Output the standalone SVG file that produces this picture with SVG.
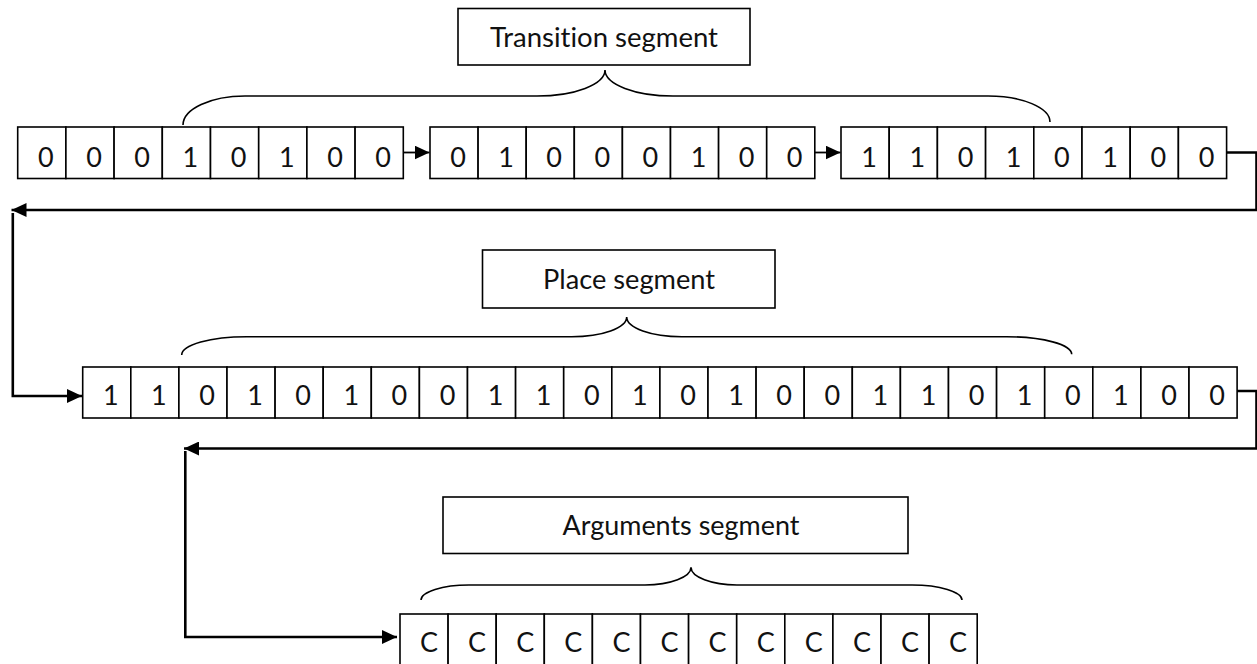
<svg xmlns="http://www.w3.org/2000/svg" width="1257" height="664" viewBox="0 0 1257 664">
<defs>
<style>
.cell{fill:#fff;stroke:#000;stroke-width:1.6}
.bit{font-family:Lato,"Open Sans","Liberation Sans",sans-serif;font-size:27px;fill:#111;text-anchor:middle}
.lbl{font-family:Lato,"Open Sans","Liberation Sans",sans-serif;font-size:26px;fill:#111;text-anchor:middle;font-variant-ligatures:none}
.box{fill:#fff;stroke:#000;stroke-width:1.6}
.brace{fill:none;stroke:#000;stroke-width:1.6}
.conn{fill:none;stroke:#000;stroke-width:2.6}
.link{fill:none;stroke:#000;stroke-width:1.8}
</style>
<marker id="ah" viewBox="0 0 15 14" refX="15" refY="7" markerWidth="15" markerHeight="14" markerUnits="userSpaceOnUse" orient="auto">
<path d="M0,0 L15,7 L0,14 z" fill="#000"/>
</marker>
</defs>
<rect width="1257" height="664" fill="#fff"/>

<!-- Label boxes and braces -->
<g id="transition-label">
<rect class="box" x="458" y="8.5" width="292" height="56.5"/>
<text class="lbl" x="604" y="46.5" textLength="228" lengthAdjust="spacingAndGlyphs">Transition segment</text>
<path class="brace" d="M183,125 A62,29 0 0 1 245,96 L537,96 A68,26 0 0 0 605,70 A68,26 0 0 0 673,96 L988,96 A62,26 0 0 1 1050,122"/>
</g>
<g id="place-label">
<rect class="box" x="482.5" y="250" width="292.5" height="58"/>
<text class="lbl" x="629" y="289.3" textLength="172" lengthAdjust="spacingAndGlyphs">Place segment</text>
<path class="brace" d="M181.7,355 A65,18.3 0 0 1 246.7,336.7 L571.7,336.7 A55,19.7 0 0 0 626.7,317 A55,19.7 0 0 0 681.7,336.7 L1006.7,336.7 A65,17.6 0 0 1 1071.7,354.3"/>
</g>
<g id="arguments-label">
<rect class="box" x="443" y="497" width="465" height="56.5"/>
<text class="lbl" x="681" y="535" textLength="237" lengthAdjust="spacingAndGlyphs">Arguments segment</text>
<path class="brace" d="M421,600 A48,15 0 0 1 469,585 L645,585 A46,17.7 0 0 0 691,567.3 A46,17.7 0 0 0 737,585 L912,585 A50,15 0 0 1 962,600"/>
</g>

<!-- Row 1, group 1 -->
<g id="t-group-1">
<rect class="cell" x="17.7" y="127" width="48.2" height="51.5"/>
<rect class="cell" x="65.9" y="127" width="48.2" height="51.5"/>
<rect class="cell" x="114.1" y="127" width="48.2" height="51.5"/>
<rect class="cell" x="162.3" y="127" width="48.2" height="51.5"/>
<rect class="cell" x="210.5" y="127" width="48.2" height="51.5"/>
<rect class="cell" x="258.7" y="127" width="48.2" height="51.5"/>
<rect class="cell" x="306.9" y="127" width="48.2" height="51.5"/>
<rect class="cell" x="355.1" y="127" width="48.2" height="51.5"/>
<text class="bit" x="45.8" y="166.5">0</text>
<text class="bit" x="94" y="166.5">0</text>
<text class="bit" x="142.2" y="166.5">0</text>
<text class="bit" x="190.4" y="166.5">1</text>
<text class="bit" x="238.6" y="166.5">0</text>
<text class="bit" x="286.8" y="166.5">1</text>
<text class="bit" x="335" y="166.5">0</text>
<text class="bit" x="383.2" y="166.5">0</text>
</g>

<!-- Row 1, group 2 -->
<g id="t-group-2">
<rect class="cell" x="430" y="127" width="48.1" height="51.5"/>
<rect class="cell" x="478.1" y="127" width="48.1" height="51.5"/>
<rect class="cell" x="526.2" y="127" width="48.1" height="51.5"/>
<rect class="cell" x="574.3" y="127" width="48.1" height="51.5"/>
<rect class="cell" x="622.4" y="127" width="48.1" height="51.5"/>
<rect class="cell" x="670.5" y="127" width="48.1" height="51.5"/>
<rect class="cell" x="718.6" y="127" width="48.1" height="51.5"/>
<rect class="cell" x="766.7" y="127" width="48.1" height="51.5"/>
<text class="bit" x="458" y="166.5">0</text>
<text class="bit" x="506.1" y="166.5">1</text>
<text class="bit" x="554.2" y="166.5">0</text>
<text class="bit" x="602.3" y="166.5">0</text>
<text class="bit" x="650.4" y="166.5">0</text>
<text class="bit" x="698.5" y="166.5">1</text>
<text class="bit" x="746.6" y="166.5">0</text>
<text class="bit" x="794.7" y="166.5">0</text>
</g>

<!-- Row 1, group 3 -->
<g id="t-group-3">
<rect class="cell" x="841" y="127" width="48.2" height="51.5"/>
<rect class="cell" x="889.2" y="127" width="48.2" height="51.5"/>
<rect class="cell" x="937.4" y="127" width="48.2" height="51.5"/>
<rect class="cell" x="985.6" y="127" width="48.2" height="51.5"/>
<rect class="cell" x="1033.8" y="127" width="48.2" height="51.5"/>
<rect class="cell" x="1082" y="127" width="48.2" height="51.5"/>
<rect class="cell" x="1130.2" y="127" width="48.2" height="51.5"/>
<rect class="cell" x="1178.4" y="127" width="48.2" height="51.5"/>
<text class="bit" x="869.1" y="166.5">1</text>
<text class="bit" x="917.3" y="166.5">1</text>
<text class="bit" x="965.5" y="166.5">0</text>
<text class="bit" x="1013.7" y="166.5">1</text>
<text class="bit" x="1061.9" y="166.5">0</text>
<text class="bit" x="1110.1" y="166.5">1</text>
<text class="bit" x="1158.3" y="166.5">0</text>
<text class="bit" x="1206.5" y="166.5">0</text>
</g>

<!-- Row 2: place segment -->
<g id="place-row">
<rect class="cell" x="82.7" y="367" width="48.1" height="51"/>
<rect class="cell" x="130.8" y="367" width="48.1" height="51"/>
<rect class="cell" x="178.9" y="367" width="48.1" height="51"/>
<rect class="cell" x="227" y="367" width="48.1" height="51"/>
<rect class="cell" x="275.1" y="367" width="48.1" height="51"/>
<rect class="cell" x="323.2" y="367" width="48.1" height="51"/>
<rect class="cell" x="371.3" y="367" width="48.1" height="51"/>
<rect class="cell" x="419.4" y="367" width="48.1" height="51"/>
<rect class="cell" x="467.5" y="367" width="48.1" height="51"/>
<rect class="cell" x="515.6" y="367" width="48.1" height="51"/>
<rect class="cell" x="563.7" y="367" width="48.1" height="51"/>
<rect class="cell" x="611.8" y="367" width="48.1" height="51"/>
<rect class="cell" x="659.9" y="367" width="48.1" height="51"/>
<rect class="cell" x="708" y="367" width="48.1" height="51"/>
<rect class="cell" x="756.1" y="367" width="48.1" height="51"/>
<rect class="cell" x="804.2" y="367" width="48.1" height="51"/>
<rect class="cell" x="852.3" y="367" width="48.1" height="51"/>
<rect class="cell" x="900.4" y="367" width="48.1" height="51"/>
<rect class="cell" x="948.5" y="367" width="48.1" height="51"/>
<rect class="cell" x="996.6" y="367" width="48.1" height="51"/>
<rect class="cell" x="1044.7" y="367" width="48.1" height="51"/>
<rect class="cell" x="1092.8" y="367" width="48.1" height="51"/>
<rect class="cell" x="1140.9" y="367" width="48.1" height="51"/>
<rect class="cell" x="1189" y="367" width="48.1" height="51"/>
<text class="bit" x="110.8" y="405">1</text>
<text class="bit" x="158.9" y="405">1</text>
<text class="bit" x="207" y="405">0</text>
<text class="bit" x="255.1" y="405">1</text>
<text class="bit" x="303.2" y="405">0</text>
<text class="bit" x="351.3" y="405">1</text>
<text class="bit" x="399.4" y="405">0</text>
<text class="bit" x="447.5" y="405">0</text>
<text class="bit" x="495.6" y="405">1</text>
<text class="bit" x="543.7" y="405">1</text>
<text class="bit" x="591.8" y="405">0</text>
<text class="bit" x="639.9" y="405">1</text>
<text class="bit" x="688" y="405">0</text>
<text class="bit" x="736.1" y="405">1</text>
<text class="bit" x="784.2" y="405">0</text>
<text class="bit" x="832.3" y="405">0</text>
<text class="bit" x="880.4" y="405">1</text>
<text class="bit" x="928.5" y="405">1</text>
<text class="bit" x="976.6" y="405">0</text>
<text class="bit" x="1024.7" y="405">1</text>
<text class="bit" x="1072.8" y="405">0</text>
<text class="bit" x="1120.9" y="405">1</text>
<text class="bit" x="1169" y="405">0</text>
<text class="bit" x="1217.1" y="405">0</text>
</g>

<!-- Row 3: arguments segment -->
<g id="arguments-row">
<rect class="cell" x="400" y="614" width="48.1" height="52"/>
<rect class="cell" x="448.1" y="614" width="48.1" height="52"/>
<rect class="cell" x="496.2" y="614" width="48.1" height="52"/>
<rect class="cell" x="544.3" y="614" width="48.1" height="52"/>
<rect class="cell" x="592.4" y="614" width="48.1" height="52"/>
<rect class="cell" x="640.5" y="614" width="48.1" height="52"/>
<rect class="cell" x="688.6" y="614" width="48.1" height="52"/>
<rect class="cell" x="736.7" y="614" width="48.1" height="52"/>
<rect class="cell" x="784.8" y="614" width="48.1" height="52"/>
<rect class="cell" x="832.9" y="614" width="48.1" height="52"/>
<rect class="cell" x="881" y="614" width="48.1" height="52"/>
<rect class="cell" x="929.1" y="614" width="48.1" height="52"/>
<text class="bit" x="429" y="652">C</text>
<text class="bit" x="477.1" y="652">C</text>
<text class="bit" x="525.2" y="652">C</text>
<text class="bit" x="573.3" y="652">C</text>
<text class="bit" x="621.4" y="652">C</text>
<text class="bit" x="669.5" y="652">C</text>
<text class="bit" x="717.6" y="652">C</text>
<text class="bit" x="765.7" y="652">C</text>
<text class="bit" x="813.8" y="652">C</text>
<text class="bit" x="861.9" y="652">C</text>
<text class="bit" x="910" y="652">C</text>
<text class="bit" x="958.1" y="652">C</text>
</g>

<!-- Connectors -->
<g id="connectors">
<path class="link" d="M403.3,152.5 H429.5" marker-end="url(#ah)"/>
<path class="link" d="M814.8,152.5 H840.5" marker-end="url(#ah)"/>
<path class="conn" d="M1226.6,152.5 H1256.5 V210 H11.5" marker-end="url(#ah)"/>
<path class="conn" d="M12.8,213 V396 H82" marker-end="url(#ah)"/>
<path class="conn" d="M1237.1,391 H1256.5 V448.5 H184" marker-end="url(#ah)"/>
<path class="conn" d="M185.3,451 V637 H397" marker-end="url(#ah)"/>
</g>
</svg>
